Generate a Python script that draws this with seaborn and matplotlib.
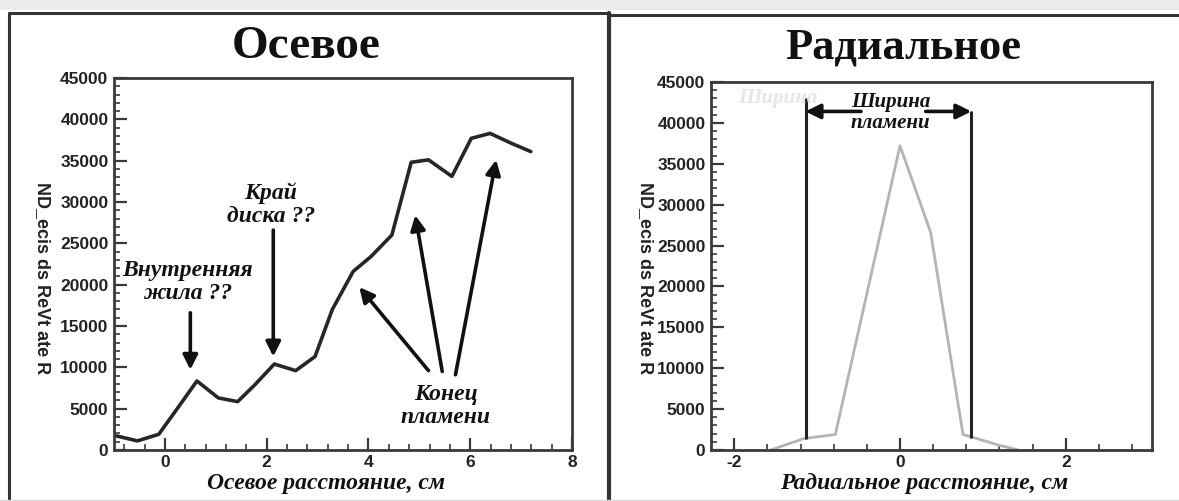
import matplotlib
matplotlib.use("Agg")
import matplotlib.pyplot as plt
import seaborn as sns
import pandas as pd
import numpy as np
from matplotlib.ticker import MultipleLocator
from matplotlib.lines import Line2D
from matplotlib.patches import Rectangle

# ---------------- data ----------------
axial_x = [-0.95, -0.54, -0.12, 0.26, 0.63, 1.05, 1.43, 1.77, 2.15, 2.57, 2.95,
           3.29, 3.70, 4.05, 4.46, 4.84, 5.18, 5.64, 6.02, 6.39, 6.81, 7.19]
axial_y = [1700, 1100, 1900, 5150, 8350, 6300, 5850, 7900, 10400, 9600, 11300,
           17000, 21600, 23400, 26000, 34800, 35100, 33100, 37700, 38300, 37100, 36100]

radial_x = [-1.56, -1.16, -0.78, 0.00, 0.37, 0.76, 1.19, 1.43]
radial_y = [0, 1400, 1900, 37200, 26600, 1900, 600, 0]

axial_ticks = [0, 2, 4, 6, 8]
radial_ticks = [-2, 0, 2]
y_ticks = [0, 5000, 10000, 15000, 20000, 25000, 30000, 35000, 40000, 45000]

title_left = "Осевое"
title_right = "Радиальное"
xlabel_left = "Осевое расстояние, см"
xlabel_right = "Радиальное расстояние, см"
ylabel = "ND_ecis ds ReVt ate R"

# flame width markers (radial panel)
edge_x = [-1.14, 0.86]
edge_bottom = [1400, 1450]
edge_top = [43000, 41400]

# ---------------- style ----------------
sns.set_style("white")
plt.rcParams['font.family'] = ['Liberation Sans', 'DejaVu Sans']
plt.rcParams['font.weight'] = 'bold'
plt.rcParams['axes.unicode_minus'] = False

W, H = 1179, 501
fig = plt.figure(figsize=(W / 100, H / 100), dpi=100)

def fx(px):
    return px / W

def fy(py):
    return 1 - py / H

ax1 = fig.add_axes([fx(114), fy(450), fx(572) - fx(114), fy(78) - fy(450)])
ax2 = fig.add_axes([fx(711), fy(450), fx(1152) - fx(711), fy(82) - fy(450)])

df_ax = pd.DataFrame({"x": axial_x, "y": axial_y})
df_rad = pd.DataFrame({"x": radial_x, "y": radial_y})

sns.lineplot(data=df_ax, x="x", y="y", ax=ax1, color="#262626", lw=2.6, sort=False)
sns.lineplot(data=df_rad, x="x", y="y", ax=ax2, color="#b4b4b4", lw=2.0, sort=False)

spine_col = "#3a3a3a"
for ax, xlim, xt in [(ax1, (-1, 8), axial_ticks), (ax2, (-2.28, 3.04), radial_ticks)]:
    ax.set_xlim(*xlim)
    ax.set_ylim(0, 45000)
    ax.set_xticks(xt)
    ax.set_yticks(y_ticks)
    ax.xaxis.set_minor_locator(MultipleLocator(0.4))
    ax.yaxis.set_minor_locator(MultipleLocator(1000))
    ax.tick_params(which="both", bottom=True, left=True, top=False, right=False)
    ax.tick_params(which="major", direction="in", length=9, width=1.6, color=spine_col,
                   labelsize=12.5, pad=4)
    ax.tick_params(which="minor", direction="in", length=4.5, width=1.2, color=spine_col)
    ax.tick_params(axis="x", which="major", pad=3.5)
    for s in ax.spines.values():
        s.set_color(spine_col)
        s.set_linewidth(2.0)
        s.set_visible(True)
    ax.set_xlabel("")
    ax.set_ylabel("")
    for lbl in ax.get_xticklabels() + ax.get_yticklabels():
        lbl.set_fontweight("bold")
        lbl.set_color("#222222")

serif = ['Liberation Serif', 'DejaVu Serif']
ann = dict(family=serif, fontsize=17, fontweight="bold", fontstyle="italic",
           ha="center", va="center", linespacing=1.1, color="#111111")
arrow = dict(arrowstyle="-|>", lw=2.6, color="#111111", mutation_scale=22,
             shrinkA=0, shrinkB=0)

# left annotations
ax1.text(0.45, 20300, "Внутренняя\nжила ??", **ann)
ax1.annotate("", xy=(0.5, 9700), xytext=(0.5, 16600), arrowprops=arrow)
ax1.text(2.08, 29700, "Край\nдиска ??", **ann)
ax1.annotate("", xy=(2.13, 11300), xytext=(2.13, 26600), arrowprops=arrow)
ax1.text(5.52, 5300, "Конец\nпламени", **ann)
ax1.annotate("", xy=(3.82, 19700), xytext=(5.18, 9600), arrowprops=arrow)
ax1.annotate("", xy=(4.92, 28400), xytext=(5.45, 9500), arrowprops=arrow)
ax1.annotate("", xy=(6.51, 35100), xytext=(5.71, 9100), arrowprops=arrow)

# right annotations
ax2.vlines(edge_x, edge_bottom, edge_top, color="#222222", lw=2.2)
ax2.text(-1.47, 43000, "Ширина", family=serif, fontsize=15, fontweight="bold",
         fontstyle="italic", ha="center", va="center", color="#e6e6e6")
ax2.text(-0.11, 41300, "Ширина\nпламени", family=serif, fontsize=15, fontweight="bold",
         fontstyle="italic", ha="center", va="center", linespacing=1.1, color="#111111")
ax2.annotate("", xy=(edge_x[0], 41400), xytext=(-0.47, 41400), arrowprops=arrow)
ax2.annotate("", xy=(edge_x[1], 41400), xytext=(0.31, 41400), arrowprops=arrow)

# titles and labels
fig.text(fx(306), fy(47), title_left, family=serif, fontsize=34, fontweight="bold",
         ha="center", va="center", color="#111111")
fig.text(fx(903), fy(47), title_right, family=serif, fontsize=32, fontweight="bold",
         ha="center", va="center", color="#111111")
fig.text(fx(326), fy(484), xlabel_left, family=serif, fontsize=17, fontweight="bold",
         fontstyle="italic", ha="center", va="center", color="#111111")
fig.text(fx(924), fy(484), xlabel_right, family=serif, fontsize=17, fontweight="bold",
         fontstyle="italic", ha="center", va="center", color="#111111")
fig.text(fx(42), fy(278), ylabel, fontsize=13, fontweight="bold", rotation=270,
         ha="center", va="center", color="#222222")
fig.text(fx(645), fy(278), ylabel, fontsize=13, fontweight="bold", rotation=270,
         ha="center", va="center", color="#222222")

# panel frames / decorations
fig.add_artist(Rectangle((0, fy(10)), 1, fy(0) - fy(10), transform=fig.transFigure,
                         color="#ebebeb", lw=0))
frame = dict(transform=fig.transFigure, color="#333333", lw=2.2)
fig.add_artist(Line2D([fx(9), fx(609)], [fy(13), fy(13)], **frame))
fig.add_artist(Line2D([fx(9), fx(9)], [fy(13), 0], **frame))
fig.add_artist(Line2D([fx(609), fx(609)], [fy(13), 0], transform=fig.transFigure,
                      color="#333333", lw=3))
fig.add_artist(Line2D([fx(609), 1], [fy(15), fy(15)], **frame))
fig.add_artist(Line2D([0, 1], [fy(500), fy(500)], transform=fig.transFigure,
                      color="#d8d8d8", lw=1))

fig.savefig("out.png", dpi=100)
